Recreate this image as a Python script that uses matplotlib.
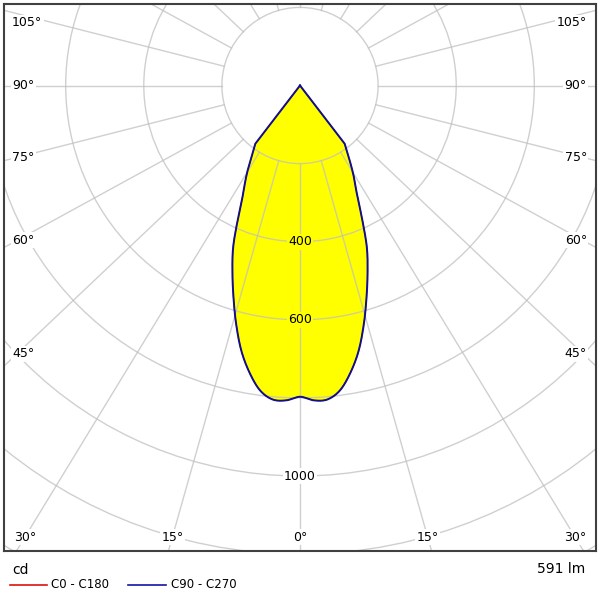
import numpy as np
import matplotlib
matplotlib.use("Agg")
import matplotlib.pyplot as plt
from matplotlib.patches import Circle
from matplotlib.lines import Line2D

# ---------------- data ----------------
gamma_deg = [0, 2.5, 5, 7.5, 10, 12.5, 15, 17.5, 20, 22.5, 25, 27.5, 30,
             32.5, 35, 37.5, 40, 45, 60, 90, 120, 150, 180]
intensity_c0_c180 = [797, 807, 807, 787, 746, 695, 632, 567, 506, 447, 376, 317,
                     279, 244, 212, 188, 0, 0, 0, 0, 0, 0, 0]
intensity_c90_c270 = [797, 807, 807, 787, 746, 695, 632, 567, 506, 447, 376, 317,
                      279, 244, 212, 188, 0, 0, 0, 0, 0, 0, 0]
ring_values = [200, 400, 600, 800, 1000, 1200, 1400]
ring_label_values = [400, 600, 1000]
spoke_angles = list(range(0, 360, 15))
side_label_angles = [45, 60, 75, 90, 105]
bottom_label_angles = [0, 15, 30]
unit_text = "cd"
flux_text = "591 lm"
legend_names = ["C0 - C180", "C90 - C270"]
legend_colors = ["#dd1111", "#1414a8"]

# ---------------- figure ----------------
W, H = 600, 600
fig = plt.figure(figsize=(6, 6), dpi=100)
ax = fig.add_axes([4 / W, 49 / H, 592 / W, 547 / H])
ax.set_xlim(-758, 758)
ax.set_ylim(-1192, 208.7)
ax.set_aspect("equal")
ax.set_xticks([])
ax.set_yticks([])
for sp in ax.spines.values():
    sp.set_color("#404040")
    sp.set_linewidth(1.5)

px = 0.3905  # pixels per cd
stretch = 1.055
grid_kw = dict(color="#c0c0c0", alpha=0.75, lw=1.0, zorder=2)


def catmull_rom(xs, ys, n=12):
    xs = np.asarray(xs, float)
    ys = np.asarray(ys, float)
    P = np.column_stack([xs, ys])
    P = np.vstack([2 * P[0] - P[1], P, 2 * P[-1] - P[-2]])
    out = []
    for i in range(1, len(P) - 2):
        p0, p1, p2, p3 = P[i - 1], P[i], P[i + 1], P[i + 2]
        for t in np.linspace(0, 1, n, endpoint=False):
            t2, t3 = t * t, t * t * t
            pt = 0.5 * ((2 * p1) + (-p0 + p2) * t +
                        (2 * p0 - 5 * p1 + 4 * p2 - p3) * t2 +
                        (-p0 + 3 * p1 - 3 * p2 + p3) * t3)
            out.append(pt)
    out.append(P[-2])
    out = np.array(out)
    return out[:, 0], out[:, 1]


def curve_xy(gam, vals):
    g = np.array(gam, dtype=float)
    v = np.array(vals, dtype=float)
    lit = v > 0
    g_l, v_l = g[lit], v[lit]
    g_full = np.deg2rad(np.concatenate([-g_l[::-1], g_l[1:]]))
    v_full = np.concatenate([v_l[::-1], v_l[1:]])
    xs, ys = v_full * np.sin(g_full), -v_full * np.cos(g_full)
    sx, sy = catmull_rom(xs, ys)
    # close the lobe through the origin (zero intensity beyond the cut-off)
    sx = np.concatenate([[0.0], sx, [0.0]])
    sy = np.concatenate([[0.0], sy, [0.0]])
    return sx, sy


x0, y0 = curve_xy(gamma_deg, intensity_c0_c180)
x1, y1 = curve_xy(gamma_deg, intensity_c90_c270)
ax.fill(x1, y1, color="#ffff00", zorder=1, lw=0)

# rings
for r in ring_values:
    ax.add_patch(Circle((0, 0), r, fill=False, ec=grid_kw["color"],
                        alpha=grid_kw["alpha"], lw=1.0, zorder=2))

# spokes
for a in spoke_angles:
    t = np.deg2rad(a)
    d = np.array([stretch * np.sin(t), -np.cos(t)])
    d /= np.hypot(*d)
    ax.plot([ring_values[0] * d[0], 4000 * d[0]],
            [ring_values[0] * d[1], 4000 * d[1]], **grid_kw)

# curves (C0-C180 lies under the identical C90-C270 curve)
ax.plot(x0, y0, color=legend_colors[0], lw=0.8, zorder=3)
ax.plot(x1, y1, color="#10108c", lw=1.4, zorder=3.1)

fs = 9
box_white = dict(boxstyle="square,pad=0.12", fc="white", ec="none")

# angle labels on the sides
side_dx = 268 / px
y_top_limit = (85.5 - 22.7) / px
for a in side_label_angles:
    t = np.deg2rad(a)
    yv = -side_dx * np.cos(t) / np.sin(t)
    yv = min(yv, y_top_limit)
    ax.text(-758 + 8 / px, yv, f"{a}°", ha="left", va="center", fontsize=fs,
            bbox=box_white, zorder=5)
    ax.text(758 - 9 / px, yv, f"{a}°", ha="right", va="center", fontsize=fs,
            bbox=box_white, zorder=5)

# angle labels at the bottom
bottom_dy = 451.5 / px
for a in bottom_label_angles:
    t = np.deg2rad(a)
    xv = bottom_dy * stretch * np.tan(t)
    signs = [1] if a == 0 else [-1, 1]
    for s in signs:
        ax.text(s * xv, -bottom_dy, f"{a}°", ha="center", va="center",
                fontsize=fs, bbox=box_white, zorder=5)

# ring labels
peak = intensity_c90_c270[0]
for r in ring_label_values:
    fc = "#ffff00" if r < peak else "white"
    ax.text(0, -r, str(r), ha="center", va="center", fontsize=fs,
            bbox=dict(boxstyle="square,pad=0.12", fc=fc, ec="none"), zorder=5)

# texts below the chart
fig.text(12 / W, 1 - 570 / H, unit_text, ha="left", va="center", fontsize=10)
fig.text(585 / W, 1 - 569 / H, flux_text, ha="right", va="center", fontsize=10)

leg_x = [(10, 47, 51), (128, 166, 171)]
for (xa, xb, xt), name, col in zip(leg_x, legend_names, legend_colors):
    yy = 1 - 585 / H
    fig.add_artist(Line2D([xa / W, xb / W], [yy, yy], color=col, lw=1.2,
                          transform=fig.transFigure))
    fig.text(xt / W, yy, name, ha="left", va="center", fontsize=8.5)

fig.savefig("out.png", dpi=100, facecolor="white")
